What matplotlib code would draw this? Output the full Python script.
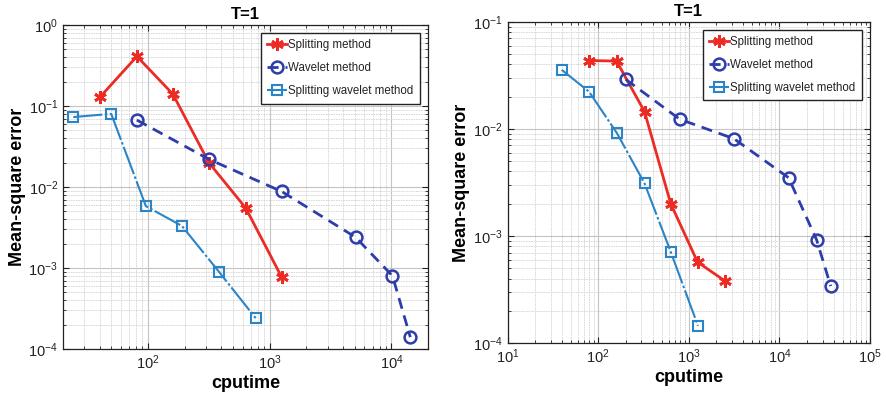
import matplotlib
matplotlib.use("Agg")
import matplotlib.pyplot as plt
from matplotlib.ticker import LogLocator, NullFormatter

plt.rcParams['font.family'] = ['Liberation Sans', 'DejaVu Sans']
plt.rcParams['mathtext.fontset'] = 'custom'
plt.rcParams['mathtext.rm'] = 'Liberation Sans'

# Left panel data
L_split_x = [40.5, 81, 160, 316, 635, 1254]
L_split_y = [0.13, 0.41, 0.14, 0.020, 0.0055, 0.00077]
L_wave_x = [81, 316, 1254, 5070, 10200, 14300]
L_wave_y = [0.067, 0.022, 0.0088, 0.0024, 0.00080, 0.00014]
L_sw_x = [24.3, 49.8, 96, 190, 382, 767]
L_sw_y = [0.073, 0.080, 0.0058, 0.0033, 0.00090, 0.00024]

# Right panel data
R_split_x = [79, 159, 324, 631, 1248, 2500]
R_split_y = [0.0435, 0.043, 0.0145, 0.0020, 0.00057, 0.00038]
R_wave_x = [201, 794, 3140, 12600, 25700, 36800]
R_wave_y = [0.029, 0.0123, 0.0081, 0.0035, 0.00092, 0.00034]
R_sw_x = [39.5, 79, 161, 324, 631, 1260]
R_sw_y = [0.0356, 0.0223, 0.0091, 0.0031, 0.00071, 0.000145]

labels = ['Splitting method', 'Wavelet method', 'Splitting wavelet method']
red = '#EC2B24'
dblue = '#2D3DAA'
lblue = '#2A84C6'

fig = plt.figure(figsize=(8.86, 3.97), dpi=100)
axL = fig.add_axes([0.0711, 0.121, 0.412, 0.816])
axR = fig.add_axes([0.573, 0.136, 0.409, 0.809])


def draw(ax, sx, sy, wx, wy, swx, swy, xlim, ylim):
    ax.set_xscale('log')
    ax.set_yscale('log')
    ax.plot(sx, sy, color=red, lw=2.0, marker=(6, 2, 0), ms=9, mew=2.0,
            label=labels[0])
    ax.plot(wx, wy, color=dblue, lw=2.0, ls=(0, (4, 2.5)), marker='o', ms=8.5,
            mfc='none', mew=1.8, label=labels[1])
    ax.plot(swx, swy, color=lblue, lw=1.5, ls=(0, (14, 1.2, 1.2, 1.2)), marker='s',
            ms=7.5, mfc='none', mew=1.5, label=labels[2])
    ax.set_xlim(*xlim)
    ax.set_ylim(*ylim)
    ax.grid(True, which='major', color='#C4C4C4', lw=0.8)
    ax.grid(True, which='minor', color='#D4D4D4', lw=0.6, ls=(0, (2, 1)))
    ax.xaxis.set_major_locator(LogLocator(base=10, numticks=10))
    ax.yaxis.set_major_locator(LogLocator(base=10, numticks=10))
    ax.xaxis.set_minor_locator(LogLocator(base=10, subs=range(2, 10), numticks=50))
    ax.yaxis.set_minor_locator(LogLocator(base=10, subs=range(2, 10), numticks=50))
    ax.xaxis.set_minor_formatter(NullFormatter())
    ax.yaxis.set_minor_formatter(NullFormatter())
    ax.tick_params(which='both', direction='in', top=True, right=True,
                   labelsize=10.5, colors='#222222')
    ax.tick_params(which='major', length=4)
    ax.tick_params(which='minor', length=2)
    for s in ax.spines.values():
        s.set_color('#222222')
        s.set_linewidth(0.9)
    ax.set_title('T=1', fontsize=12, fontweight='bold', pad=4)
    ax.set_xlabel('cputime', fontsize=13, fontweight='bold', labelpad=2)
    ax.set_ylabel('Mean-square error', fontsize=13, fontweight='bold', labelpad=2)
    leg = ax.legend(loc='upper right', fontsize=8.3, fancybox=False,
                    edgecolor='#222222', framealpha=1, handlelength=1.7,
                    borderpad=0.55, labelspacing=0.95, handletextpad=0.15,
                    borderaxespad=0.7)
    leg.get_frame().set_linewidth(1.0)
    for t in leg.get_texts():
        t.set_color('#222222')


draw(axL, L_split_x, L_split_y, L_wave_x, L_wave_y, L_sw_x, L_sw_y,
     (20, 2e4), (1e-4, 1))
draw(axR, R_split_x, R_split_y, R_wave_x, R_wave_y, R_sw_x, R_sw_y,
     (10, 1e5), (1e-4, 1e-1))

fig.savefig('out.png', dpi=100)
